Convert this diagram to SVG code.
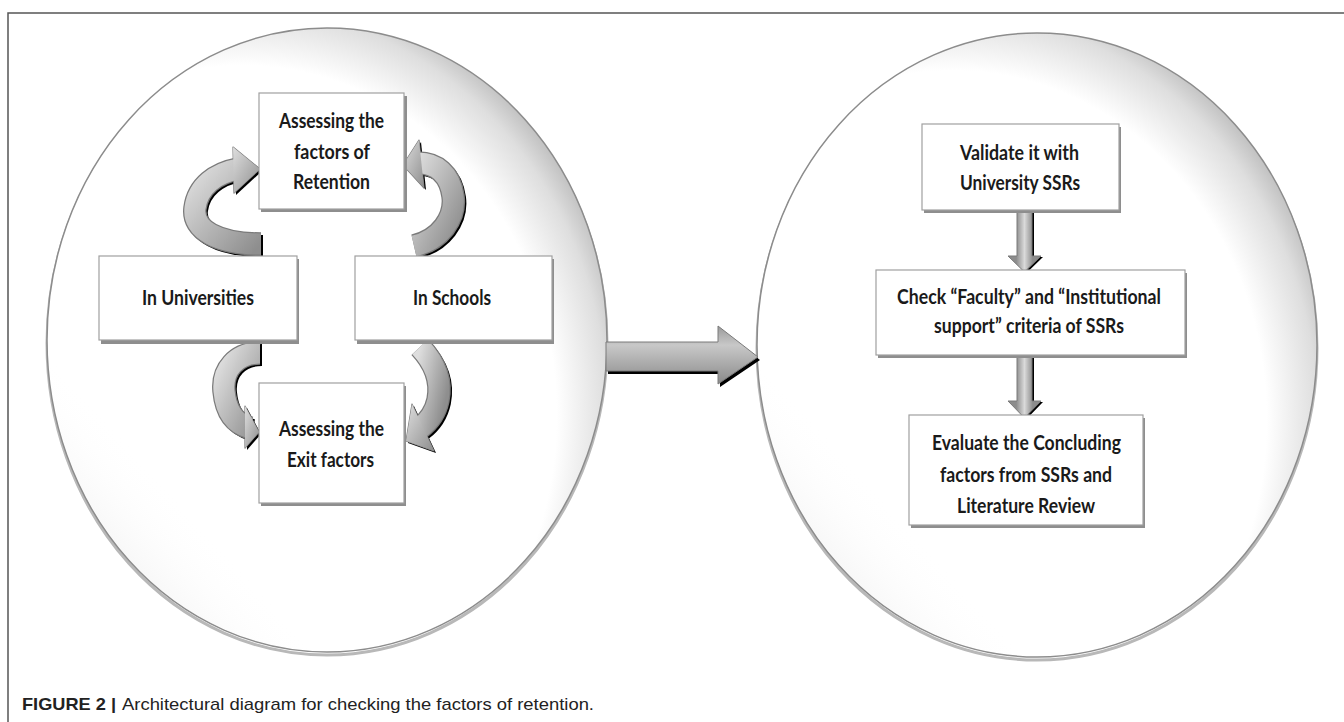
<svg xmlns="http://www.w3.org/2000/svg" width="1344" height="722" viewBox="0 0 1344 722">
<style>
.t{font-family:Lato,"Liberation Sans",sans-serif;font-size:21px;font-weight:bold;fill:#1a1a1a;}
.box{fill:#fff;stroke:#a0a0a0;stroke-width:1.2;}
.bsh{fill:#8e8e8e;}
.ell{stroke:#8c8c8c;stroke-width:1.5;}
.esh{fill:none;stroke:#b8b8b8;stroke-width:3;}
.shaftS{fill:none;stroke:#000;stroke-width:22;}
.shaftO{fill:none;stroke:#7a7a7a;stroke-width:23.5;}
.shaftF{fill:none;stroke:url(#ag);stroke-width:21;}
.headS{fill:#000;}
.headO{fill:#7a7a7a;stroke:#7a7a7a;stroke-width:1.2;stroke-linejoin:round;}
.headF{fill:url(#ag);}
.cap{font-family:"Liberation Sans",Arial,sans-serif;font-size:17px;fill:#222;}
</style>
<defs>
<radialGradient id="eg" cx="0.35" cy="0.62" r="0.7">
<stop offset="0.8" stop-color="#ffffff"/>
<stop offset="0.93" stop-color="#dedede"/>
<stop offset="1" stop-color="#bcbcbc"/>
</radialGradient>
<linearGradient id="eg2" x1="0" y1="1" x2="1" y2="0">
<stop offset="0" stop-color="#cfcfcf" stop-opacity="0.45"/>
<stop offset="0.14" stop-color="#e4e4e4" stop-opacity="0.3"/>
<stop offset="0.24" stop-color="#ffffff" stop-opacity="0"/>
<stop offset="1" stop-color="#ffffff" stop-opacity="0"/>
</linearGradient>
<linearGradient id="ag" x1="0" y1="0" x2="1" y2="1">
<stop offset="0" stop-color="#dedede"/>
<stop offset="0.5" stop-color="#b6b6b6"/>
<stop offset="1" stop-color="#8e8e8e"/>
</linearGradient>
<linearGradient id="hg" x1="0" y1="0" x2="0" y2="1">
<stop offset="0" stop-color="#9a9a9a"/>
<stop offset="0.33" stop-color="#c8c8c8"/>
<stop offset="0.7" stop-color="#a6a6a6"/>
<stop offset="1" stop-color="#8a8a8a"/>
</linearGradient>
<linearGradient id="vg" x1="0" y1="0" x2="1" y2="0">
<stop offset="0.25" stop-color="#8c8c8c"/>
<stop offset="0.5" stop-color="#dadada"/>
<stop offset="0.75" stop-color="#8c8c8c"/>
</linearGradient>
</defs>
<rect width="1344" height="722" fill="#fff"/>
<path d="M8 722 V13 H1344" fill="none" stroke="#555" stroke-width="1.5"/>

<g id="left-circle">
<ellipse class="esh" cx="327" cy="343" rx="280" ry="312"/>
<ellipse class="ell" cx="327" cy="340" rx="280" ry="312" fill="url(#eg)"/>
<ellipse cx="327" cy="340" rx="279" ry="311" fill="url(#eg2)"/>
</g>
<g id="right-circle">
<ellipse class="esh" cx="1037" cy="348" rx="280" ry="312"/>
<ellipse class="ell" cx="1037" cy="345" rx="280" ry="312" fill="url(#eg)"/>
<ellipse cx="1037" cy="345" rx="279" ry="311" fill="url(#eg2)"/>
</g>

<g id="connectors">
<g id="big-arrow">
<polygon transform="translate(2,3)" fill="#000" points="606,342 718,342 718,326 758,357 718,384 718,371 606,371"/>
<polygon fill="url(#hg)" stroke="#7a7a7a" stroke-width="1" points="606,342 718,342 718,326 758,357 718,384 718,371 606,371"/>
</g>
<g id="arrow-tl">
<g transform="translate(2,2)"><path class="shaftS" d="M261 244 C218 244,192 230,195 208 C198 186,216 173,238 169"/><polygon class="headS" points="233,147 260,169 234,193"/></g>
<path class="shaftO" d="M261 244 C218 244,192 230,195 208 C198 186,216 173,238 169"/><polygon class="headO" points="233,147 260,169 234,193"/>
<path class="shaftF" d="M261 244 C218 244,192 230,195 208 C198 186,216 173,238 169"/><polygon class="headF" points="233,147 260,169 234,193"/>
</g>
<g id="arrow-tr">
<g transform="translate(2,2)"><path class="shaftS" d="M414 246 C440 240,456 218,453 196 C450 174,436 163,418 163"/><polygon class="headS" points="419,140 403,165 424,188"/></g>
<path class="shaftO" d="M414 246 C440 240,456 218,453 196 C450 174,436 163,418 163"/><polygon class="headO" points="419,140 403,165 424,188"/>
<path class="shaftF" d="M414 246 C440 240,456 218,453 196 C450 174,436 163,418 163"/><polygon class="headF" points="419,140 403,165 424,188"/>
</g>
<g id="arrow-bl">
<g transform="translate(2,2)"><path class="shaftS" d="M260 353 C236 353,222 370,224 391 C226 413,236 424,250 428"/><polygon class="headS" points="245,406 259,432 245,448"/></g>
<path class="shaftO" d="M260 353 C236 353,222 370,224 391 C226 413,236 424,250 428"/><polygon class="headO" points="245,406 259,432 245,448"/>
<path class="shaftF" d="M260 353 C236 353,222 370,224 391 C226 413,236 424,250 428"/><polygon class="headF" points="245,406 259,432 245,448"/>
</g>
<g id="arrow-br">
<g transform="translate(2,2)"><path class="shaftS" d="M420 347 C434 362,442 380,438 400 C435 414,428 422,420 428"/><polygon class="headS" points="412,404 406,441 434,451"/></g>
<path class="shaftO" d="M420 347 C434 362,442 380,438 400 C435 414,428 422,420 428"/><polygon class="headO" points="412,404 406,441 434,451"/>
<path class="shaftF" d="M420 347 C434 362,442 380,438 400 C435 414,428 422,420 428"/><polygon class="headF" points="412,404 406,441 434,451"/>
</g>
<g id="arrow-r1">
<polygon transform="translate(2,1)" fill="#000" points="1017,210 1032,210 1032,256 1041,256 1024.5,272 1008,256 1017,256"/>
<polygon fill="url(#vg)" stroke="#7a7a7a" stroke-width="1" points="1017,210 1032,210 1032,256 1041,256 1024.5,272 1008,256 1017,256"/>
</g>
<g id="arrow-r2">
<polygon transform="translate(2,1)" fill="#000" points="1017,355 1032,355 1032,401 1041,401 1024.5,418 1008,401 1017,401"/>
<polygon fill="url(#vg)" stroke="#7a7a7a" stroke-width="1" points="1017,355 1032,355 1032,401 1041,401 1024.5,418 1008,401 1017,401"/>
</g>
</g>

<g id="node-retention">
<rect class="bsh" x="261" y="96" width="146" height="116"/>
<rect class="box" x="259" y="93" width="145" height="116"/>
<text class="t" x="279" y="128" textLength="105" lengthAdjust="spacingAndGlyphs">Assessing the</text>
<text class="t" x="294" y="159" textLength="76" lengthAdjust="spacingAndGlyphs">factors of</text>
<text class="t" x="293" y="189" textLength="77" lengthAdjust="spacingAndGlyphs">Retention</text>
</g>
<g id="node-universities">
<rect class="bsh" x="101" y="259" width="198" height="85"/>
<rect class="box" x="99" y="256" width="198" height="84"/>
<text class="t" x="142" y="305" textLength="112" lengthAdjust="spacingAndGlyphs">In Universities</text>
</g>
<g id="node-schools">
<rect class="bsh" x="357" y="259" width="197" height="85"/>
<rect class="box" x="355" y="256" width="197" height="84"/>
<text class="t" x="413" y="305" textLength="78" lengthAdjust="spacingAndGlyphs">In Schools</text>
</g>
<g id="node-exit">
<rect class="bsh" x="261" y="386" width="145" height="120"/>
<rect class="box" x="259" y="383" width="145" height="120"/>
<text class="t" x="279" y="436" textLength="105" lengthAdjust="spacingAndGlyphs">Assessing the</text>
<text class="t" x="287" y="467" textLength="87" lengthAdjust="spacingAndGlyphs">Exit factors</text>
</g>
<g id="node-validate">
<rect class="bsh" x="924" y="127" width="197" height="86"/>
<rect class="box" x="922" y="124" width="197" height="86"/>
<text class="t" x="960" y="160" textLength="119" lengthAdjust="spacingAndGlyphs">Validate it with</text>
<text class="t" x="960" y="190" textLength="120" lengthAdjust="spacingAndGlyphs">University SSRs</text>
</g>
<g id="node-check">
<rect class="bsh" x="878" y="273" width="309" height="85"/>
<rect class="box" x="876" y="270" width="309" height="85"/>
<text class="t" x="897" y="304" textLength="264" lengthAdjust="spacingAndGlyphs">Check “Faculty” and “Institutional</text>
<text class="t" x="934" y="333" textLength="190" lengthAdjust="spacingAndGlyphs">support” criteria of SSRs</text>
</g>
<g id="node-evaluate">
<rect class="bsh" x="911" y="418" width="234" height="110"/>
<rect class="box" x="909" y="415" width="234" height="110"/>
<text class="t" x="932" y="450" textLength="189" lengthAdjust="spacingAndGlyphs">Evaluate the Concluding</text>
<text class="t" x="940" y="482" textLength="172" lengthAdjust="spacingAndGlyphs">factors from SSRs and</text>
<text class="t" x="957" y="513" textLength="138" lengthAdjust="spacingAndGlyphs">Literature Review</text>
</g>

<g id="caption">
<text class="cap" x="22" y="710" font-weight="bold" textLength="94" lengthAdjust="spacingAndGlyphs">FIGURE 2 |</text>
<text class="cap" x="122" y="710" textLength="472" lengthAdjust="spacingAndGlyphs">Architectural diagram for checking the factors of retention.</text>
</g>
</svg>
